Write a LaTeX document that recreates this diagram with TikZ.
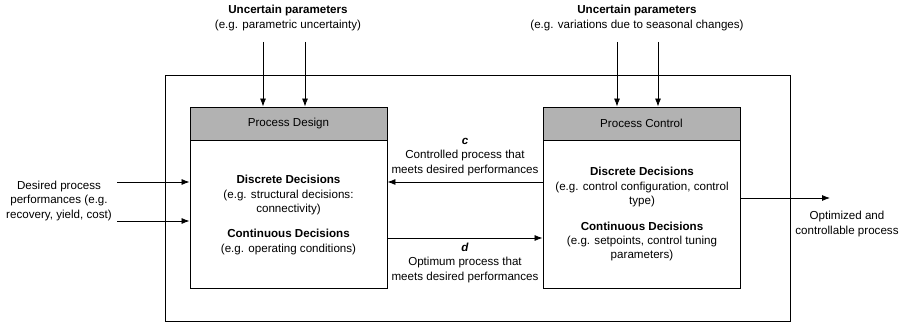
\documentclass[tikz,border=0pt]{standalone}
\usepackage{fontspec}
\setmainfont{Liberation Sans}
\usetikzlibrary{arrows.meta}
\definecolor{hdrgray}{RGB}{178,178,178}
\tikzset{
  box/.style={draw, line width=0.9pt, minimum width=197pt, inner sep=0pt},
  hdr/.style={box, fill=hdrgray, minimum height=33pt},
  body/.style={box, fill=white, minimum height=148pt},
  txt/.style={align=center, inner sep=0pt, font=\fontsize{11.6}{14.4}\selectfont},
  arr/.style={line width=0.8pt, -{Latex[length=8pt,width=6pt]}},
  outer/.style={draw, line width=0.9pt, minimum width=625pt, minimum height=246pt, inner sep=0pt}
}
\begin{document}
\begin{tikzpicture}[x=1pt,y=-1pt]
\useasboundingbox (0,0) rectangle (900,323);
% outer box
\node[outer] (outerbox) at (477.5,198) {};
% process design
\node[hdr] (dhead) at (288.5,123.5) {};
\node[txt] at (dhead) {Process Design};
\node[body,anchor=north] (dbody) at (dhead.south) {};
\node[txt] (dtext) at (288.5,215) {\textbf{Discrete Decisions}\\(e.g. structural decisions:\\connectivity)\\[11pt]\textbf{Continuous Decisions}\\(e.g. operating conditions)};
% process control
\node[hdr] (chead) at (641.5,123.5) {};
\node[txt] at (chead) {Process Control};
\node[body,anchor=north] (cbody) at (chead.south) {};
\node[txt] (ctext) at (642,214.5) {\textbf{Discrete Decisions}\\(e.g. control configuration, control\\type)\\[11pt]\textbf{Continuous Decisions}\\(e.g. setpoints, control tuning\\parameters)};
% uncertain parameters
\node[txt] (ul) at (288,18) {\textbf{Uncertain parameters}\\(e.g. parametric uncertainty)};
\node[txt] (ur) at (637,18) {\textbf{Uncertain parameters}\\(e.g. variations due to seasonal changes)};
\coordinate (ua) at (263,42);
\coordinate (ub) at (305,42);
\coordinate (uc) at (617,42);
\coordinate (ud) at (658,42);
\draw[arr] (ua) -- (ua |- dhead.north);
\draw[arr] (ub) -- (ub |- dhead.north);
\draw[arr] (uc) -- (uc |- chead.north);
\draw[arr] (ud) -- (ud |- chead.north);
% inputs
\node[txt] (inp) at (59,201) {Desired process\\performances (e.g.\\recovery, yield, cost)};
\coordinate (ia) at (117,182);
\coordinate (ib) at (117,221);
\draw[arr] (ia) -- (ia -| dbody.west);
\draw[arr] (ib) -- (ib -| dbody.west);
% c and d
\coordinate (cy) at (465,182);
\coordinate (dy) at (465,238);
\draw[arr] (cbody.west |- cy) -- (dbody.east |- cy);
\draw[arr] (dbody.east |- dy) -- (cbody.west |- dy);
\node[txt] (clab) at (465,157) {\textbf{\textit{c}}\\Controlled process that\\meets desired performances};
\node[txt] (dlab) at (465,263) {\textbf{\textit{d}}\\Optimum process that\\meets desired performances};
% output
\coordinate (oy) at (830,198);
\draw[arr] (cbody.east |- oy) -- (oy);
\node[txt] (out) at (847,224) {Optimized and\\controllable process};
\end{tikzpicture}
\end{document}
